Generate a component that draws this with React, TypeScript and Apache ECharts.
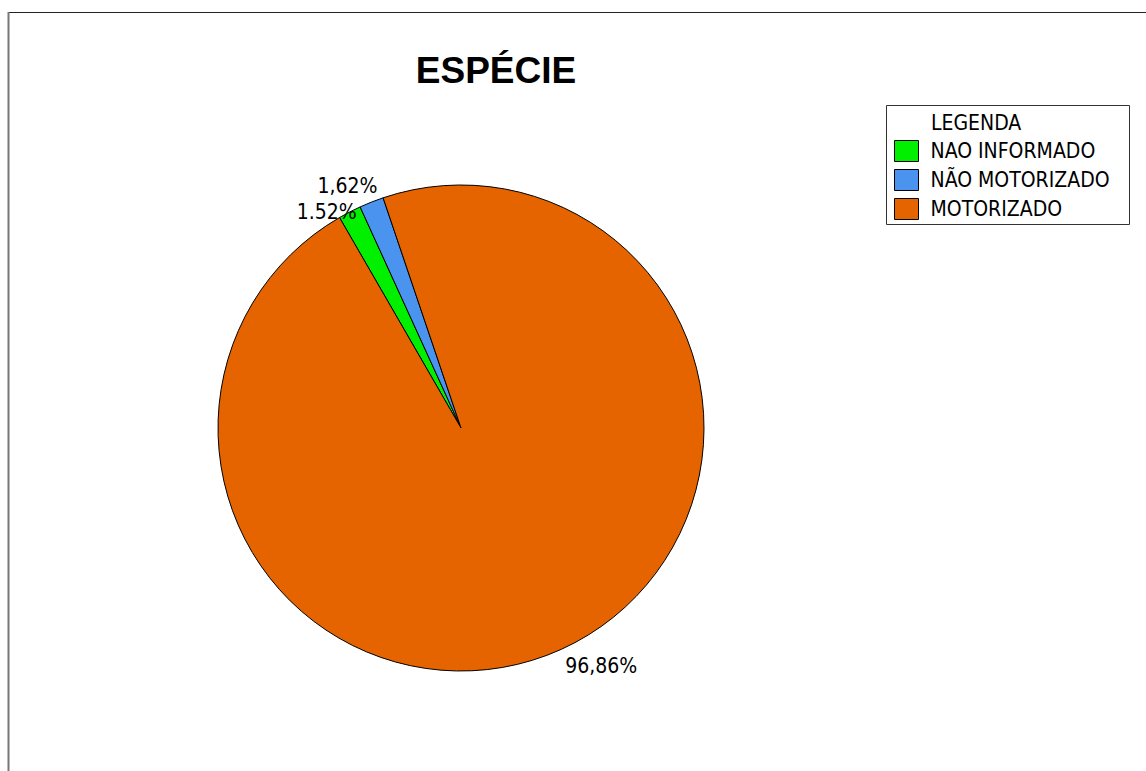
import React, { useEffect, useRef } from "react";
import * as echarts from "echarts";

const categories = ["NAO INFORMADO", "NÃO MOTORIZADO", "MOTORIZADO"];
const values = [1.52, 1.62, 96.86];
const valueLabels = ["1.52%", "1,62%", "96,86%"];
const colors = ["#00F000", "#4A94F0", "#E56400"];
const labelOffsets = [
  [7, 0],
  [6, -16],
  [4, 17],
];

const FONT = "'DejaVu Sans Condensed', 'DejaVu Sans', sans-serif";

export default function App() {
  const ref = useRef<HTMLDivElement>(null);
  useEffect(() => {
    if (!ref.current) return;
    const chart = echarts.init(ref.current, null, { renderer: "svg" });
    chart.setOption({
      animation: false,
      backgroundColor: "#ffffff",
      title: {
        text: "ESPÉCIE",
        left: 496,
        top: 52,
        padding: 0,
        textAlign: "center",
        textStyle: {
          fontFamily: "'Liberation Sans', Arial, sans-serif",
          fontWeight: "bold",
          fontSize: 37,
          color: "#000",
        },
      },
      legend: {
        orient: "vertical",
        left: 894,
        top: 140,
        padding: 0,
        icon: "rect",
        itemWidth: 24,
        itemHeight: 21,
        itemGap: 7,
        data: categories,
        textStyle: {
          fontFamily: FONT,
          fontSize: 21,
          color: "#000",
          padding: [0, 0, 0, 7],
        },
        itemStyle: { borderColor: "#000", borderWidth: 1 },
      },
      graphic: [
        {
          type: "line",
          shape: { x1: 8, y1: 12.5, x2: 1146, y2: 12.5 },
          style: { stroke: "#222", lineWidth: 1 },
        },
        {
          type: "line",
          shape: { x1: 8.5, y1: 12, x2: 8.5, y2: 771 },
          style: { stroke: "#777", lineWidth: 2 },
        },
        {
          type: "rect",
          shape: { x: 886.5, y: 105.5, width: 243, height: 119 },
          style: { fill: "none", stroke: "#333", lineWidth: 1 },
          z: 0,
        },
        {
          type: "text",
          x: 931,
          y: 123,
          style: {
            text: "LEGENDA",
            fontFamily: FONT,
            fontSize: 21,
            fill: "#000",
            verticalAlign: "middle",
          },
        },
      ],
      series: [
        {
          type: "pie",
          center: [461, 428],
          radius: 243,
          startAngle: 120,
          clockwise: true,
          avoidLabelOverlap: false,
          itemStyle: { borderColor: "#000", borderWidth: 1 },
          label: {
            show: true,
            position: "outside",
            distanceToLabelLine: 0,
            fontFamily: FONT,
            fontSize: 21,
            color: "#000",
            formatter: (p: any) => valueLabels[p.dataIndex],
          },
          labelLine: { show: false, length: 0, length2: 0 },
          labelLayout: (p: any) => ({
            dx: labelOffsets[p.dataIndex][0],
            dy: labelOffsets[p.dataIndex][1],
          }),
          emphasis: { disabled: true },
          data: categories.map((name, i) => ({
            name,
            value: values[i],
            itemStyle: { color: colors[i] },
          })),
        },
      ],
    });
    return () => chart.dispose();
  }, []);
  return (
    <div
      ref={ref}
      style={{ position: "absolute", left: 0, top: 0, width: 1146, height: 771 }}
    />
  );
}
